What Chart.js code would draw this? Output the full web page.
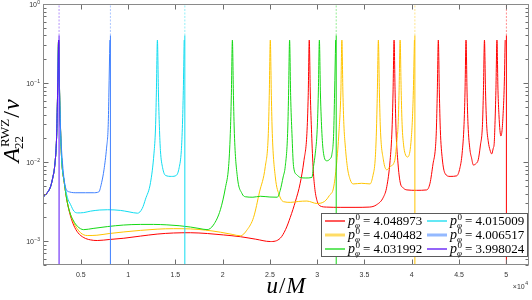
<!DOCTYPE html>
<html>
<head>
<meta charset="utf-8">
<script src="https://cdn.jsdelivr.net/npm/chart.js@4"></script>
<style>
  html, body { margin: 0; padding: 0; background: #fff; }
  canvas { display: block; }
</style>
</head>
<body>
<canvas id="myChart" width="532" height="300" style="width:532px;height:300px"></canvas>
<script>
// u/M (in M) and A_22^RWZ/nu
var lead = [[1000, 0.0036], [1450, 0.0041], [1800, 0.0049], [2050, 0.0065], [2230, 0.0088], [2440, 0.021], [2540, 0.07], [2650, 0.35]];

var red = [[2760, 0.07], [2860, 0.025], [2970, 0.011], [3250, 0.0055], [3570, 0.0031], [3900, 0.0021], [4240, 0.0016], [4700, 0.00128], [5320, 0.00111], [6000, 0.00104], [6740, 0.00102], [8000, 0.00105], [9550, 0.00109], [11300, 0.00116], [13070, 0.00123], [14800, 0.00127], [16590, 0.00128], [18400, 0.00125], [20100, 0.0012], [21870, 0.00114], [23500, 0.00106], [25040, 0.00099], [26090, 0.00109], [26650, 0.0014], [27150, 0.002], [27700, 0.0032], [28200, 0.0054], [28600, 0.0105], [28910, 0.023], [29050, 0.07], [29160, 0.35], [29270, 0.075], [29410, 0.023], [29580, 0.008], [29760, 0.0045], [30000, 0.0032], [30290, 0.0028], [31000, 0.0027], [32500, 0.00268], [34000, 0.00268], [35500, 0.0027], [36300, 0.0029], [37000, 0.0036], [37360, 0.0049], [37710, 0.0105], [37920, 0.027], [38020, 0.075], [38130, 0.35], [38240, 0.075], [38340, 0.025], [38550, 0.0095], [38770, 0.0056], [39120, 0.0047], [39500, 0.00445], [40500, 0.0044], [41580, 0.00445], [41930, 0.0054], [42250, 0.0095], [42500, 0.015], [42600, 0.025], [42700, 0.075], [42810, 0.35], [42920, 0.075], [43020, 0.026], [43230, 0.011], [43520, 0.0072], [44050, 0.0066], [44750, 0.0067], [45100, 0.0085], [45330, 0.013], [45530, 0.03], [45630, 0.075], [45740, 0.35], [45850, 0.075], [45950, 0.03], [46150, 0.0145], [46330, 0.0112], [46510, 0.0092], [46800, 0.0096], [47030, 0.0107], [47250, 0.016], [47480, 0.03], [47580, 0.08], [47690, 0.35], [47800, 0.08], [47920, 0.03], [48100, 0.018], [48270, 0.0143], [48450, 0.0127], [48620, 0.015], [48720, 0.0173], [48800, 0.03], [48900, 0.08], [49010, 0.35], [49120, 0.08], [49220, 0.04], [49330, 0.025], [49430, 0.0214], [49560, 0.026], [49680, 0.045], [49780, 0.09], [49880, 0.35]];

var yellow = [[2760, 0.07], [2860, 0.025], [2970, 0.011], [3250, 0.0055], [3570, 0.0031], [3900, 0.0022], [4240, 0.00172], [4970, 0.00128], [5680, 0.00118], [6700, 0.00119], [8000, 0.00125], [9550, 0.00131], [11300, 0.00137], [13070, 0.00142], [14800, 0.00144], [16590, 0.00143], [18200, 0.00138], [19760, 0.0013], [21000, 0.00122], [21870, 0.00117], [22600, 0.0014], [23270, 0.002], [23900, 0.0042], [24510, 0.0088], [24830, 0.023], [24930, 0.07], [25040, 0.35], [25150, 0.07], [25250, 0.023], [25570, 0.0065], [26000, 0.0038], [26440, 0.00316], [27200, 0.0031], [28000, 0.00318], [28910, 0.00322], [29970, 0.003], [30800, 0.0032], [31300, 0.0038], [31720, 0.0047], [32050, 0.0095], [32300, 0.024], [32500, 0.075], [32610, 0.35], [32720, 0.075], [32820, 0.03], [32960, 0.0165], [33200, 0.0085], [33490, 0.006], [33800, 0.0053], [34700, 0.0054], [35590, 0.0053], [35900, 0.0068], [36130, 0.0107], [36260, 0.024], [36360, 0.075], [36470, 0.35], [36580, 0.075], [36680, 0.027], [37000, 0.0107], [37360, 0.008], [37710, 0.0088], [38200, 0.0105], [38450, 0.02], [38560, 0.03], [38660, 0.08], [38770, 0.35], [38880, 0.08], [38980, 0.03], [39150, 0.016], [39290, 0.0129], [39540, 0.0116], [39800, 0.0135], [39950, 0.02], [40070, 0.035], [40170, 0.08], [40280, 0.35]];

var green = [[2760, 0.07], [2860, 0.025], [2970, 0.011], [3250, 0.0055], [3570, 0.0031], [3900, 0.0022], [4240, 0.0018], [4625, 0.00155], [5300, 0.0014], [6300, 0.00145], [7800, 0.00153], [9500, 0.0016], [11300, 0.00163], [12700, 0.00163], [14100, 0.00161], [15400, 0.00157], [16600, 0.00151], [17500, 0.00145], [18350, 0.0014], [19020, 0.0016], [19760, 0.0025], [20300, 0.0048], [20630, 0.0088], [20810, 0.023], [20920, 0.07], [21030, 0.35], [21140, 0.07], [21240, 0.023], [21550, 0.0066], [22050, 0.004], [22400, 0.00365], [23200, 0.0036], [23980, 0.0037], [25000, 0.00362], [25780, 0.0036], [26090, 0.0044], [26400, 0.0065], [26620, 0.0088], [26870, 0.023], [26970, 0.07], [27080, 0.35], [27190, 0.07], [27330, 0.023], [27500, 0.0088], [27860, 0.0069], [28200, 0.0064], [28800, 0.0063], [29440, 0.0064], [29610, 0.0088], [29800, 0.013], [30000, 0.026], [30120, 0.075], [30230, 0.35], [30340, 0.075], [30500, 0.023], [30670, 0.0129], [31020, 0.0104], [31350, 0.011], [31550, 0.0125], [31740, 0.023], [31840, 0.075], [31950, 0.35]];

var cyan = [[2760, 0.07], [2860, 0.024], [2970, 0.011], [3250, 0.0057], [3570, 0.0036], [3920, 0.0029], [4270, 0.0024], [4660, 0.00228], [5300, 0.0023], [6030, 0.0024], [7000, 0.00248], [7830, 0.0025], [9200, 0.00245], [10100, 0.00235], [11000, 0.00226], [11500, 0.0026], [11840, 0.0034], [12370, 0.0055], [12740, 0.013], [12900, 0.027], [12990, 0.075], [13100, 0.35], [13210, 0.075], [13310, 0.028], [13420, 0.014], [13650, 0.0085], [13950, 0.0068], [14600, 0.0066], [15100, 0.0068], [15400, 0.0085], [15630, 0.014], [15750, 0.03], [15840, 0.08], [15930, 0.35]];

var blue = [[2760, 0.072], [2860, 0.026], [3070, 0.0095], [3400, 0.0047], [3800, 0.0042], [4600, 0.0041], [5500, 0.0041], [6300, 0.0041], [6900, 0.0042], [7200, 0.0055], [7450, 0.008], [7720, 0.015], [7900, 0.03], [7970, 0.075], [8070, 0.35]];

var purple = [];

// where each curve plunges (vertical line)
var plungeU = [50010, 40330, 32010, 16000, 8130, 2700];
var pphi0 = ['4.048973', '4.040482', '4.031992', '4.015009', '4.006517', '3.998024'];
var colors = ['#ff0000', '#ffc400', '#14d814', '#10dcf0', '#3d7fff', '#5a10f5'];

var xTicks = [5000, 10000, 15000, 20000, 25000, 30000, 35000, 40000, 45000, 50000];
var xTickLabels = ['0.5', '1', '1.5', '2', '2.5', '3', '3.5', '4', '4.5', '5'];
var yMajor = [1e-3, 1e-2, 1e-1, 1];
var yExp = ['\u22123', '\u22122', '\u22121', '0'];

function rgba(hex, a) {
  var n = parseInt(hex.slice(1), 16);
  return 'rgba(' + (n >> 16) + ',' + ((n >> 8) & 255) + ',' + (n & 255) + ',' + a + ')';
}

var series = [red, yellow, green, cyan, blue, purple];
var datasets = [];
series.forEach(function (s, i) {
  var pts = lead.concat(s).map(function (p) { return { x: p[0], y: p[1] }; });
  datasets.push({
    label: 'p_phi^0 = ' + pphi0[i],
    data: pts,
    borderColor: colors[i],
    borderWidth: 1,
    pointRadius: 0,
    fill: false,
    cubicInterpolationMode: 'monotone',
    order: series.length - i
  });
  datasets.push({
    label: '',
    data: [{ x: plungeU[i], y: 1e-6 }, { x: plungeU[i], y: 0.4 }, { x: plungeU[i], y: 10 }],
    borderColor: colors[i],
    borderWidth: 1,
    pointRadius: 0,
    tension: 0,
    order: series.length - i,
    segment: {
      borderColor: function (c) { return c.p0DataIndex === 1 ? rgba(colors[i], 0.45) : undefined; },
      borderDash: function (c) { return c.p0DataIndex === 1 ? [2, 1.5] : undefined; }
    }
  });
});

function drawPLabel(ctx, x, y, val) {
  ctx.fillStyle = '#000';
  ctx.textAlign = 'left';
  ctx.textBaseline = 'alphabetic';
  ctx.font = 'italic 14px "Liberation Serif"';
  ctx.fillText('p', x, y + 4);
  var w = ctx.measureText('p').width;
  ctx.font = '9px "Liberation Serif"';
  ctx.fillText('0', x + w + 0.5, y - 1);
  ctx.font = 'italic 9px "Liberation Serif"';
  ctx.fillText('\u03c6', x + w, y + 7);
  ctx.font = '13px "Liberation Serif"';
  ctx.fillText('= ' + val, x + w + 8, y + 4);
}

var matlabAxes = {
  id: 'matlabAxes',
  afterDraw: function (chart) {
    var ctx = chart.ctx, ca = chart.chartArea;
    var xs = chart.scales.x, ys = chart.scales.y;
    var L = Math.round(ca.left) + 0.5, R = Math.round(ca.right) - 0.5;
    var T = Math.round(ca.top) + 0.5, B = Math.round(ca.bottom) - 0.5;
    ctx.save();
    // ticks
    ctx.strokeStyle = '#6e6e6e';
    ctx.lineWidth = 1;
    ctx.beginPath();
    xTicks.forEach(function (v) {
      var px = Math.round(xs.getPixelForValue(v)) + 0.5;
      ctx.moveTo(px, B); ctx.lineTo(px, B - 5);
      ctx.moveTo(px, T); ctx.lineTo(px, T + 5);
    });
    for (var d = -4; d <= 0; d++) {
      for (var m = 1; m <= 9; m++) {
        var v = m * Math.pow(10, d);
        if (v < ys.min * 0.999 || v > ys.max * 1.001) continue;
        var py = Math.round(ys.getPixelForValue(v)) + 0.5;
        var len = m === 1 ? 5 : 3;
        ctx.moveTo(L, py); ctx.lineTo(L + len, py);
        ctx.moveTo(R, py); ctx.lineTo(R - len, py);
      }
    }
    ctx.stroke();
    // box
    ctx.strokeStyle = '#8a8a8a';
    ctx.strokeRect(L, T, R - L, B - T);

    // x tick labels
    ctx.fillStyle = '#333';
    ctx.font = '7px "Liberation Sans"';
    ctx.textAlign = 'center';
    ctx.textBaseline = 'alphabetic';
    xTicks.forEach(function (v, i) {
      ctx.fillText(xTickLabels[i], xs.getPixelForValue(v), 277);
    });
    // x multiplier
    ctx.textAlign = 'right';
    ctx.font = '5px "Liberation Sans"';
    ctx.fillText('4', 528, 285);
    var w4 = ctx.measureText('4').width;
    ctx.font = '7px "Liberation Sans"';
    ctx.fillText('\u00d710', 528 - w4 - 0.5, 289);

    // y tick labels
    yMajor.forEach(function (v, i) {
      var py = ys.getPixelForValue(v);
      ctx.font = '5px "Liberation Sans"';
      var we = ctx.measureText(yExp[i]).width;
      ctx.fillText(yExp[i], 40, py - 0.5);
      ctx.font = '7px "Liberation Sans"';
      ctx.fillText('10', 40 - we - 0.3, py + 3);
    });

    // x title
    ctx.fillStyle = '#000';
    ctx.textAlign = 'left';
    var it = 'italic 23px "Liberation Serif"', up = '23px "Liberation Serif"';
    ctx.font = it; var wu = ctx.measureText('u').width, wM = ctx.measureText('M').width;
    ctx.font = up; var ws = ctx.measureText('/').width;
    var tx = (ca.left + ca.right) / 2 - (wu + ws + wM + 2) / 2;
    ctx.font = it; ctx.fillText('u', tx, 293);
    ctx.font = up; ctx.fillText('/', tx + wu + 1, 293);
    ctx.font = it; ctx.fillText('M', tx + wu + ws + 2, 293);

    // y title
    ctx.save();
    ctx.translate(19, 131);
    ctx.rotate(-Math.PI / 2);
    var big = 'italic 24px "Liberation Serif"', bigUp = '24px "Liberation Serif"', sm = '13px "Liberation Serif"';
    ctx.font = big; var wA = ctx.measureText('A').width, wNu = ctx.measureText('\u03bd').width;
    ctx.font = sm; var wSup = ctx.measureText('RWZ').width, wSub = ctx.measureText('22').width;
    ctx.font = bigUp; var wSl = ctx.measureText('/').width;
    var total = wA + Math.max(wSup, wSub) + 2 + wSl + 1 + wNu;
    var x0 = -total / 2;
    ctx.font = big; ctx.fillText('A', x0, 0);
    ctx.font = sm;
    ctx.fillText('RWZ', x0 + wA + 1, -10);
    ctx.fillText('22', x0 + wA - 1, 4);
    var x1 = x0 + wA + Math.max(wSup, wSub) + 2;
    ctx.font = bigUp; ctx.fillText('/', x1, 0);
    ctx.font = big; ctx.fillText('\u03bd', x1 + wSl + 1, 0);
    ctx.restore();

    // legend
    var lx = 321.5, ly = 213.5, lw = 206, lh = 43;
    ctx.fillStyle = '#fff';
    ctx.fillRect(lx, ly, lw, lh);
    ctx.strokeStyle = '#5a5a5a';
    ctx.lineWidth = 1;
    ctx.strokeRect(lx, ly, lw, lh);
    var rows = [221, 235, 249];
    var cols = [325, 427];
    var sampleW = [1.3, 3, 1.3, 1.3, 3, 1.3];
    var sampleA = [1, 0.6, 1, 1, 0.55, 1];
    for (var k = 0; k < 6; k++) {
      var cx = cols[Math.floor(k / 3)], ry = rows[k % 3];
      ctx.strokeStyle = rgba(colors[k], sampleA[k]);
      ctx.lineWidth = sampleW[k];
      ctx.beginPath();
      ctx.moveTo(cx, ry); ctx.lineTo(cx + 20, ry);
      ctx.stroke();
      drawPLabel(ctx, cx + 23, ry, pphi0[k]);
    }
    ctx.restore();
  }
};

var ctx = document.getElementById('myChart');
var myChart = new Chart(ctx, {
  type: 'line',
  data: { datasets: datasets },
  options: {
    responsive: false,
    maintainAspectRatio: false,
    devicePixelRatio: 1,
    animation: false,
    layout: { padding: { left: 0, right: 3, top: 4, bottom: 0 } },
    plugins: { legend: { display: false }, tooltip: { enabled: false } },
    scales: {
      x: {
        type: 'linear', min: 1000, max: 52400,
        afterBuildTicks: function (s) { s.ticks = xTicks.map(function (v) { return { value: v }; }); },
        afterFit: function (s) { s.height = 35; },
        grid: { display: false },
        border: { display: false },
        ticks: { display: false }
      },
      y: {
        type: 'logarithmic', min: 5e-4, max: 1,
        afterBuildTicks: function (s) { s.ticks = yMajor.map(function (v) { return { value: v }; }); },
        afterFit: function (s) { s.width = 43; },
        grid: { display: false },
        border: { display: false },
        ticks: { display: false }
      }
    }
  },
  plugins: [matlabAxes]
});
</script>
</body>
</html>
